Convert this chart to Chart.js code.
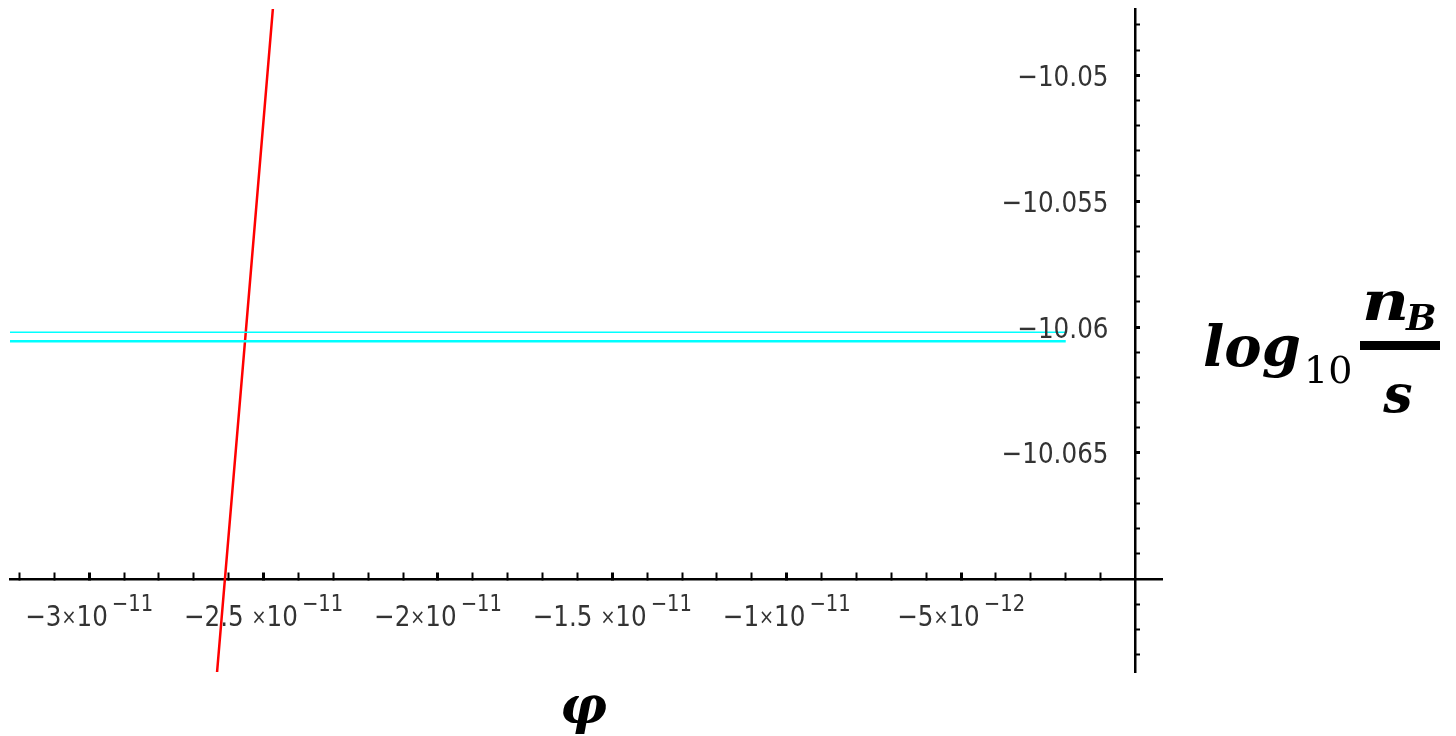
<!DOCTYPE html>
<html>
<head>
<meta charset="utf-8">
<title>log10 nB/s against phi</title>
<script src="https://cdn.jsdelivr.net/npm/chart.js@4.4.1/dist/chart.umd.min.js"></script>
<style>
body { margin: 0; background: #fff; }
#wrap { position: relative; width: 1456px; height: 736px; }
</style>
</head>
<body>
<div id="wrap"><canvas id="plot"></canvas></div>
<script>
// plot range
let xMin = -3.227e-11, xMax = 7.6e-13;
let yMin = -10.0737, yMax = -10.04737;
let xCross = 0, yCross = -10.07;

// red curve
let redX = [-2.6333e-11, -2.5522e-11, -2.4733e-11];
let redY = [-10.0737, -10.0604, -10.04737];

// the two cyan horizontal lines
let cyanX = [-3.3e-11, -2.0e-12];
let cyan1Y = [-10.06021, -10.06021];
let cyan2Y = [-10.06056, -10.06056];

// labelled ticks
let xTickValues = [-3e-11, -2.5e-11, -2e-11, -1.5e-11, -1e-11, -5e-12];
let xTickMant = ["−3", "−2.5 ", "−2", "−1.5 ", "−1", "−5"];
let xTickExp = ["−11", "−11", "−11", "−11", "−11", "−12"];
let yTickValues = [-10.05, -10.055, -10.06, -10.065];
let yTickLabels = ["−10.05", "−10.055", "−10.06", "−10.065"];

// minor ticks every 1e-12 on x and 0.001 on y
let xAllTicks = [];
for (let k = -32; k <= -1; k++) xAllTicks.push(k * 1e-12);
let yAllTicks = [];
for (let k = 48; k <= 73; k++) if (k != 70) yAllTicks.push(-10 - k / 1000);

function isMajorX(v) { return Math.round(v * 1e12) % 5 === 0; }
function isMajorY(v) { return Math.round(v * 1000) % 5 === 0; }

function pts(xs, ys) { return xs.map((x, i) => ({ x: x, y: ys[i] })); }

function squashed(c, text, x, y, font, sx) {
  c.save();
  c.font = font;
  c.translate(x, y);
  c.scale(sx, 1);
  c.fillText(text, 0, 0);
  c.restore();
}
function widthOf(c, text, font, sx) {
  c.font = font;
  return c.measureText(text).width * sx;
}

const axisText = {
  id: 'axisText',
  afterDraw(chart) {
    const c = chart.ctx;
    const xs = chart.scales.x, ys = chart.scales.y;
    const axisY = ys.getPixelForValue(yCross);
    const axisX = xs.getPixelForValue(xCross);
    const sx = 0.85;
    const baseFont = '29px "DejaVu Sans"', supFont = '23px "DejaVu Sans"', timesFont = '21px "DejaVu Sans"';
    c.save();
    c.fillStyle = '#333';
    c.textBaseline = 'alphabetic';
    c.textAlign = 'left';
    xTickValues.forEach((v, i) => {
      const px = xs.getPixelForValue(v);
      const wm = widthOf(c, xTickMant[i], baseFont, sx);
      const wt = widthOf(c, '×', timesFont, sx);
      const wd = widthOf(c, '10', baseFont, sx);
      const we = widthOf(c, xTickExp[i], supFont, sx);
      let x0 = px - (wm + wt + wd + 4 + we) / 2;
      squashed(c, xTickMant[i], x0, axisY + 47, baseFont, sx); x0 += wm;
      squashed(c, '×', x0, axisY + 45, timesFont, sx); x0 += wt;
      squashed(c, '10', x0, axisY + 47, baseFont, sx); x0 += wd + 4;
      squashed(c, xTickExp[i], x0, axisY + 32, supFont, sx);
    });
    c.textAlign = 'right';
    yTickValues.forEach((v, i) => {
      const py = ys.getPixelForValue(v);
      squashed(c, yTickLabels[i], axisX - 27, py + 10.5, baseFont, sx);
    });

    // axis titles
    c.fillStyle = '#000';
    c.textAlign = 'left';
    c.font = 'italic bold 52px "DejaVu Serif"';
    c.fillText('φ', 560, 723);
    c.font = 'italic bold 56px "DejaVu Serif"';
    c.fillText('log', 1203, 366);
    c.font = '38px "DejaVu Serif"';
    c.fillText('10', 1304, 383);
    c.fillRect(1360, 341, 80, 9);
    squashed(c, 'n', 1362, 320, 'italic bold 54px "DejaVu Serif"', 1.2);
    c.font = 'italic bold 52px "DejaVu Serif"';
    c.textAlign = 'center';
    c.fillText('s', 1398, 412);
    c.textAlign = 'left';
    c.font = 'italic bold 36px "DejaVu Serif"';
    c.fillText('B', 1406, 330);
    c.restore();
  }
};

new Chart(document.getElementById('plot'), {
  type: 'scatter',
  data: {
    datasets: [
      { data: pts(cyanX, cyan1Y), borderColor: '#00ffff', borderWidth: 1.5, showLine: true, pointRadius: 0, clip: 0 },
      { data: pts(cyanX, cyan2Y), borderColor: '#00ffff', borderWidth: 2.5, showLine: true, pointRadius: 0, clip: 0 },
      { data: pts(redX, redY), borderColor: '#ff0000', borderWidth: 2.5, showLine: true, pointRadius: 0, clip: 0 }
    ]
  },
  options: {
    responsive: true,
    maintainAspectRatio: false,
    animation: false,
    layout: { padding: { left: 10, top: 9, right: 294, bottom: 64 } },
    plugins: { legend: { display: false }, tooltip: { enabled: false } },
    scales: {
      x: {
        type: 'linear',
        min: xMin, max: xMax,
        bounds: 'data',
        position: { y: yCross },
        afterBuildTicks: s => { s.ticks = xAllTicks.map(v => ({ value: v })); },
        grid: {
          drawOnChartArea: false, drawTicks: true, tickLength: -8, tickColor: '#000', lineWidth: 1,
          tickWidth: ctx => (ctx.tick && isMajorX(ctx.tick.value)) ? 3 : 2
        },
        border: { display: true, color: '#000', width: 2.5 },
        ticks: { display: false }
      },
      y: {
        type: 'linear',
        min: yMin, max: yMax,
        bounds: 'data',
        position: { x: xCross },
        afterBuildTicks: s => { s.ticks = yAllTicks.map(v => ({ value: v })); },
        grid: {
          drawOnChartArea: false, drawTicks: true, tickLength: -6, tickColor: '#000', lineWidth: 1,
          tickWidth: ctx => (ctx.tick && isMajorY(ctx.tick.value)) ? 3 : 2
        },
        border: { display: true, color: '#000', width: 2.5 },
        ticks: { display: false }
      }
    }
  },
  plugins: [axisText]
});
</script>
</body>
</html>
